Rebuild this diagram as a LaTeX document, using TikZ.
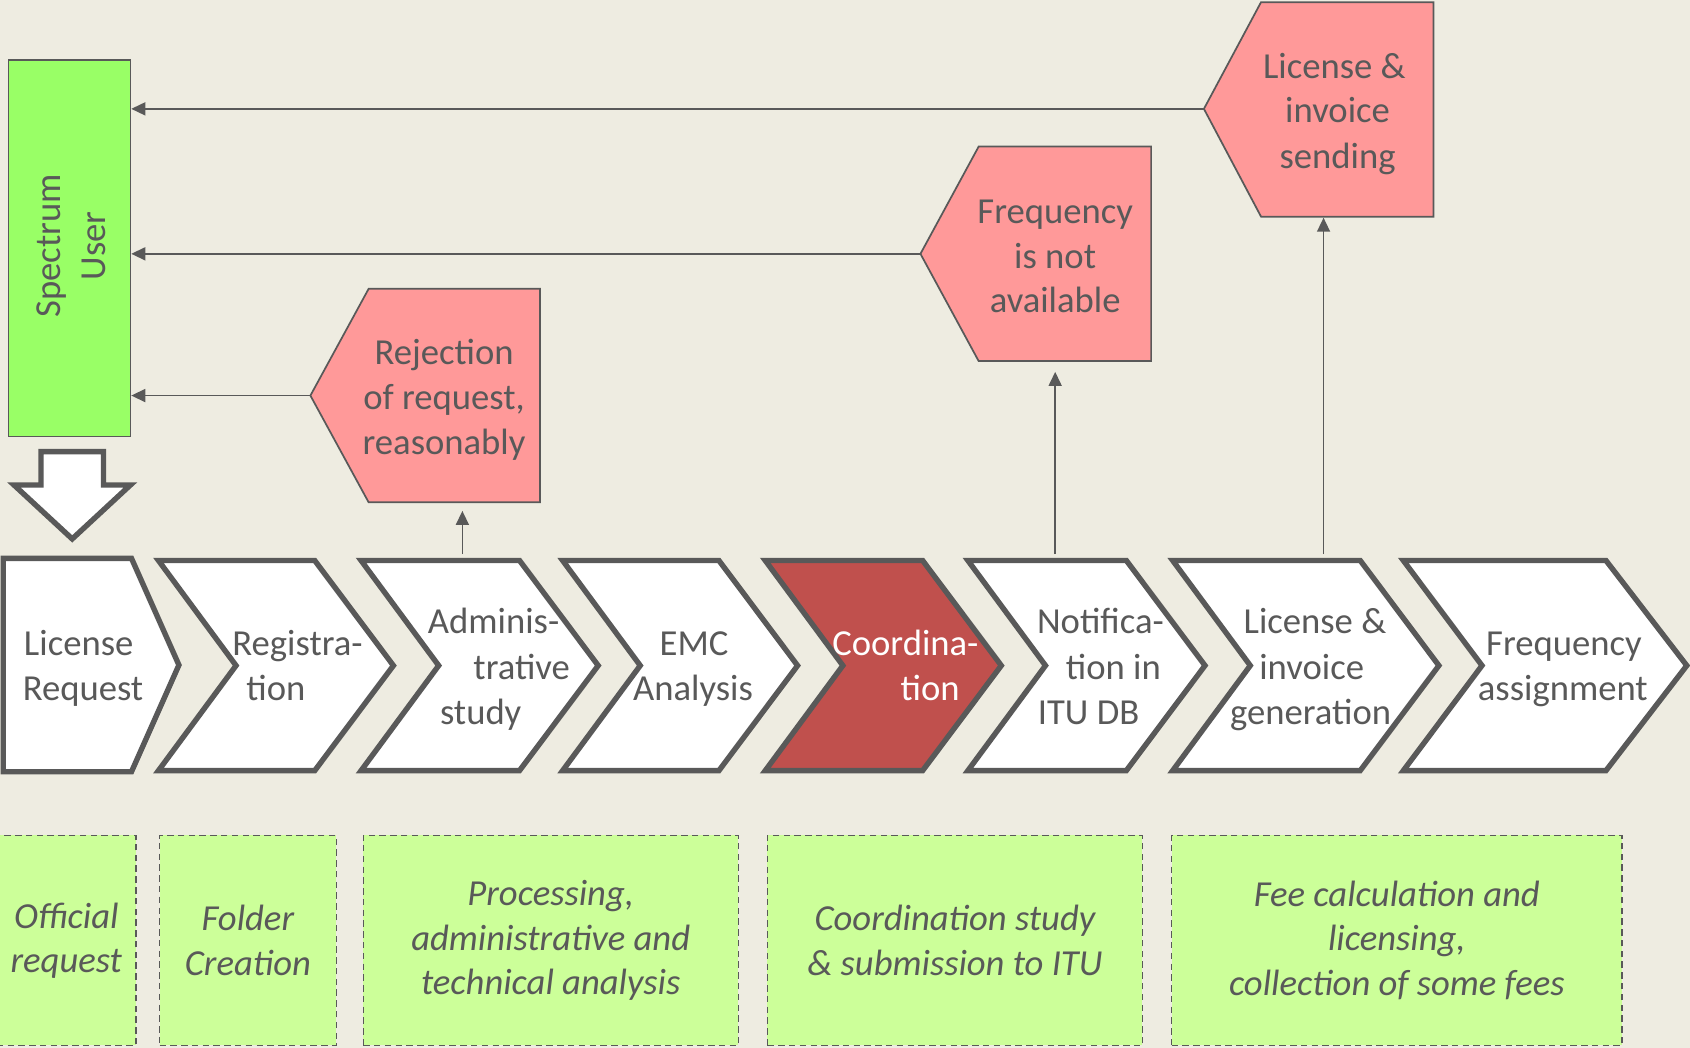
\documentclass[tikz,border=0pt]{standalone}
\usepackage{fontspec}
\setmainfont{Carlito}
\usetikzlibrary{arrows.meta}
\definecolor{bgc}{HTML}{EEECE1}
\definecolor{gr}{HTML}{595959}
\definecolor{pinkf}{HTML}{FF9999}
\definecolor{userg}{HTML}{99FF66}
\definecolor{lgreen}{HTML}{CCFF99}
\definecolor{coordc}{HTML}{C0504D}
\begin{document}
\begin{tikzpicture}[x=1pt,y=-1pt,
  chevbox/.style={draw=gr, line width=5pt, fill=white, line join=miter, miter limit=10},
  pinkbox/.style={draw=gr, line width=1.6pt, fill=pinkf, line join=miter},
  arr/.style={draw=gr, line width=1.6pt, -{Triangle[length=13pt,width=12pt]}},
  lbl/.style={font=\fontsize{34}{42}\selectfont, text=gr, inner sep=0pt, anchor=base},
  dbox/.style={draw=gr, dash pattern=on 6pt off 4pt, line width=1.3pt, fill=lgreen,
    font=\fontsize{34}{41}\selectfont\itshape, text=gr, align=center, inner sep=0pt,
    minimum height=195pt},
]
\fill[bgc] (0,0) rectangle (1568,972);
\useasboundingbox (0,0) rectangle (1568,972);

% Spectrum user
\node[draw=gr, line width=1.6pt, fill=userg, minimum width=113pt, minimum height=349pt, inner sep=0pt] (user) at (64.5,230.5) {};
\node[rotate=90, align=center, font=\fontsize{34}{42}\selectfont, text=gr, inner sep=0pt] (usertext) at (66,228) {Spectrum\\User};

% block arrow down
\draw[chevbox] (38,419) -- (96,419) -- (96,450) -- (121,450) -- (67,500) -- (13,450) -- (38,450) -- cycle;

% chevrons
\draw[chevbox] (3,518) -- (122,518) -- (166,617) -- (122,716) -- (3,716) -- cycle;
\draw[chevbox] (147,520) -- ++(145,0) -- ++(73,97.5) -- ++(-73,97.5) -- ++(-145,0) -- ++(72,-97.5) -- cycle;
\draw[chevbox] (335,520) -- ++(147,0) -- ++(73,97.5) -- ++(-73,97.5) -- ++(-147,0) -- ++(72,-97.5) -- cycle;
\draw[chevbox] (522,520) -- ++(145,0) -- ++(73,97.5) -- ++(-73,97.5) -- ++(-145,0) -- ++(72,-97.5) -- cycle;
\draw[chevbox, fill=coordc] (710,520) -- ++(146,0) -- ++(73,97.5) -- ++(-73,97.5) -- ++(-146,0) -- ++(72,-97.5) -- cycle;
\draw[chevbox] (898,520) -- ++(147,0) -- ++(73,97.5) -- ++(-73,97.5) -- ++(-147,0) -- ++(72,-97.5) -- cycle;
\draw[chevbox] (1088,520) -- ++(174,0) -- ++(73,97.5) -- ++(-73,97.5) -- ++(-174,0) -- ++(72,-97.5) -- cycle;
\draw[chevbox] (1302,520) -- ++(188,0) -- ++(75,97.5) -- ++(-75,97.5) -- ++(-188,0) -- ++(73,-97.5) -- cycle;

% chevron texts
\node[lbl] (c1a) at (73,608) {License};
\node[lbl] (c1b) at (77,650) {Request};
\node[lbl] (c2a) at (276,608) {Registra-};
\node[lbl] (c2b) at (256,650) {tion};
\node[lbl] (c3a) at (458,588) {Adminis-};
\node[lbl] (c3b) at (484,630) {trative};
\node[lbl] (c3c) at (446,672) {study};
\node[lbl] (c4a) at (644,608) {EMC};
\node[lbl] (c4b) at (643,650) {Analysis};
\node[lbl, text=white] (c5a) at (840,608) {Coordina-};
\node[lbl, text=white] (c5b) at (863,650) {tion};
\node[lbl] (c6a) at (1021,588) {Notifica-};
\node[lbl] (c6b) at (1033,630) {tion in};
\node[lbl] (c6c) at (1010,672) {ITU DB};
\node[lbl] (c7a) at (1220,588) {License \&};
\node[lbl] (c7b) at (1217,630) {invoice};
\node[lbl] (c7c) at (1216,672) {generation};
\node[lbl] (c8a) at (1451,608) {Frequency};
\node[lbl] (c8b) at (1450,650) {assignment};

% pink shapes
\draw[pinkbox] (288,367) coordinate (rejtip) -- (342,268) -- (501,268) -- (501,466) -- (342,466) -- cycle;
\draw[pinkbox] (854,235.5) coordinate (freqtip) -- (908,136) -- (1068,136) -- (1068,335) -- (908,335) -- cycle;
\draw[pinkbox] (1117,101) coordinate (sendtip) -- (1170,2) -- (1330,2) -- (1330,201) -- (1170,201) -- cycle;
\node[lbl] (r1) at (412,338) {Rejection};
\node[lbl] (r2) at (412,380) {of request,};
\node[lbl] (r3) at (412,422) {reasonably};
\node[lbl] (f1) at (979,207) {Frequency};
\node[lbl] (f2) at (979,249) {is not};
\node[lbl] (f3) at (979,290) {available};
\node[lbl] (s1) at (1238,73) {License \&};
\node[lbl] (s2) at (1241,114) {invoice};
\node[lbl] (s3) at (1241,156) {sending};

% connector end points
\coordinate (admtop) at (429,514);
\coordinate (rejbase) at (429,474);
\coordinate (nottop) at (979,514);
\coordinate (freqbase) at (979,345);
\coordinate (gentop) at (1228,514);
\coordinate (sendbase) at (1228,202);

% connectors
\draw[arr] (sendtip) -- (sendtip -| user.east);
\draw[arr] (freqtip) -- (freqtip -| user.east);
\draw[arr] (rejtip) -- (rejtip -| user.east);
\draw[arr] (admtop) -- (rejbase);
\draw[arr] (nottop) -- (freqbase);
\draw[arr] (gentop) -- (sendbase);

% dashed boxes
\node[dbox, minimum width=129pt] (d1) at (61.5,872.5) {Official\\request};
\node[dbox, minimum width=164pt] (d2) at (230,872.5) {Folder\\Creation};
\node[dbox, minimum width=348pt] (d3) at (511,872.5) {Processing,\\administrative and\\technical analysis};
\node[dbox, minimum width=348pt] (d4) at (886,872.5) {Coordination study\\\&~submission to ITU};
\node[dbox, minimum width=418pt] (d5) at (1296,872.5) {Fee calculation and\\licensing,\\collection of some fees};
\end{tikzpicture}
\end{document}
